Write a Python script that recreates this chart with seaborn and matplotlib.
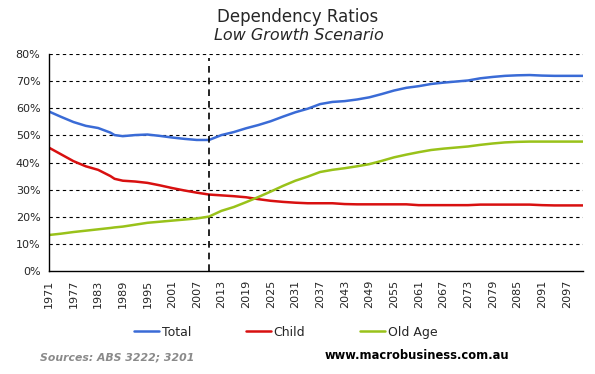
import pandas as pd
import matplotlib.pyplot as plt
import seaborn as sns

# Dependency ratios (%)
years = [1971, 1974, 1977, 1980, 1983, 1986, 1987, 1989, 1992, 1995, 1998, 2001, 2004,
         2007, 2010, 2013, 2016, 2019, 2022, 2025, 2028, 2031, 2034, 2037, 2040, 2043,
         2046, 2049, 2052, 2055, 2058, 2061, 2064, 2067, 2070, 2073, 2076, 2079, 2082,
         2085, 2088, 2091, 2094, 2097, 2101]
total = [58.8, 56.8, 54.9, 53.5, 52.7, 51.0, 50.1, 49.7, 50.1, 50.3, 49.8, 49.2, 48.7,
         48.3, 48.3, 50.1, 51.2, 52.6, 53.8, 55.2, 56.9, 58.5, 59.8, 61.5, 62.3, 62.6,
         63.2, 64.0, 65.2, 66.5, 67.5, 68.1, 68.9, 69.4, 69.8, 70.2, 71.0, 71.5, 71.9,
         72.1, 72.2, 72.0, 71.9, 71.9, 71.9]
child = [45.5, 43.0, 40.5, 38.6, 37.3, 35.0, 34.0, 33.3, 33.0, 32.5, 31.6, 30.6, 29.7,
         28.9, 28.2, 27.9, 27.6, 27.2, 26.5, 25.9, 25.5, 25.2, 25.0, 25.0, 25.0, 24.7,
         24.6, 24.6, 24.6, 24.6, 24.6, 24.3, 24.3, 24.3, 24.3, 24.3, 24.5, 24.5, 24.5,
         24.5, 24.5, 24.3, 24.2, 24.2, 24.2]
old_age = [13.3, 13.8, 14.4, 14.9, 15.4, 15.9, 16.1, 16.4, 17.1, 17.8, 18.2, 18.6, 19.0,
           19.4, 20.1, 22.2, 23.6, 25.4, 27.3, 29.3, 31.4, 33.3, 34.8, 36.5, 37.3, 37.9,
           38.6, 39.4, 40.6, 41.9, 42.9, 43.8, 44.6, 45.1, 45.5, 45.9, 46.5, 47.0, 47.4,
           47.6, 47.7, 47.7, 47.7, 47.7, 47.7]
tick_years = list(range(1971, 2098, 6))
split_year = 2010

df = pd.DataFrame({"Year": years, "Total": total, "Child": child, "Old Age": old_age})
long = df.melt(id_vars="Year", var_name="Series", value_name="Ratio")

sns.set_style("white")
plt.rcParams['font.family'] = ['DejaVu Sans']

fig = plt.figure(figsize=(5.95, 3.74), dpi=100)
ax = fig.add_axes([0.082, 0.275, 0.898, 0.581])

palette = {"Total": "#3a6bd6", "Child": "#d81010", "Old Age": "#99c21a"}
sns.lineplot(data=long, x="Year", y="Ratio", hue="Series", palette=palette,
             linewidth=1.8, ax=ax, legend=False)

ax.axvline(split_year, color="black", linestyle=(0, (4, 3)), linewidth=1.2, ymax=0.98)

ax.set_xlim(1971, 2101)
ax.set_ylim(0, 80)
ax.set_yticks(range(0, 81, 10))
ax.set_yticklabels([f"{v}%" for v in range(0, 81, 10)], fontsize=8)
ax.set_xticks(tick_years)
ax.set_xticklabels([str(y) for y in tick_years], rotation=90, fontsize=8)
ax.set_xlabel("")
ax.set_ylabel("")
ax.tick_params(axis="both", direction="out", length=4, width=1, color="black", pad=2)

for v in range(10, 81, 10):
    ax.axhline(v, color="black", linestyle=(0, (3, 3)), linewidth=0.8, zorder=0)

for side in ["top", "right"]:
    ax.spines[side].set_visible(False)
for side in ["left", "bottom"]:
    ax.spines[side].set_color("black")
    ax.spines[side].set_linewidth(1)

fig.text(0.5, 0.955, "Dependency Ratios", ha="center", va="center", fontsize=12)
fig.text(0.503, 0.905, "Low Growth Scenario", ha="center", va="center", fontsize=11.5,
         style="italic")

handles = [plt.Line2D([], [], color=palette[s], linewidth=1.8) for s in ["Total", "Child", "Old Age"]]
fig.legend(handles, ["Total", "Child", "Old Age"], loc="center", bbox_to_anchor=(0.48, 0.112),
           ncol=3, frameon=False, fontsize=9, handlelength=2.0, handletextpad=0.2,
           columnspacing=4.4)

fig.text(0.068, 0.045, "Sources: ABS 3222; 3201", ha="left", va="center", fontsize=7.8,
         color="#8a8a8a", style="italic", weight="bold")
fig.text(0.855, 0.05, "www.macrobusiness.com.au", ha="right", va="center", fontsize=8.3,
         color="black", weight="bold")

fig.savefig("out.png", dpi=100)
